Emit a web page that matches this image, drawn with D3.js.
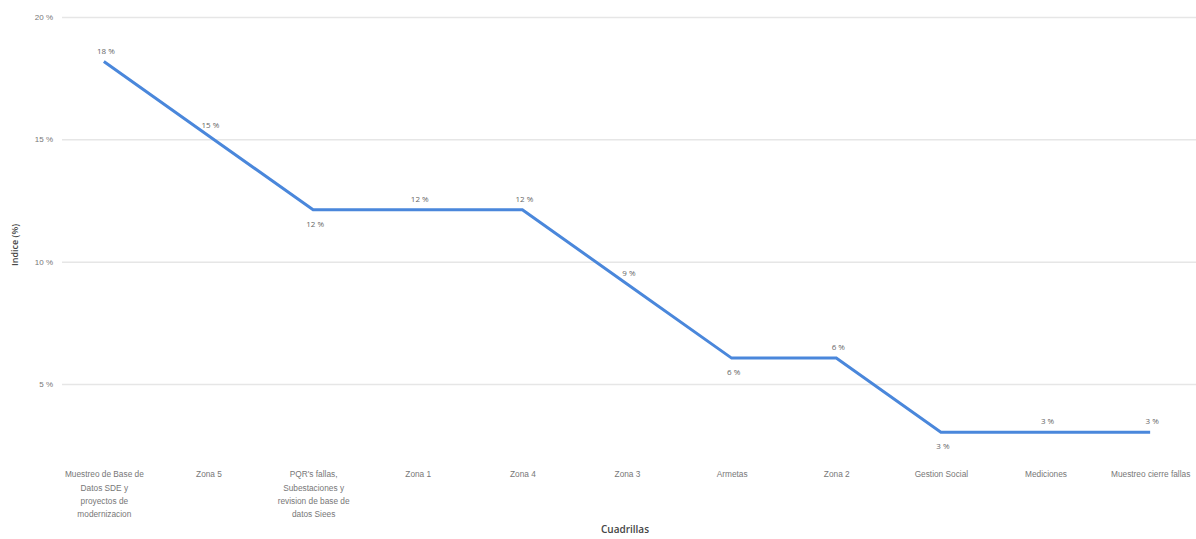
<!DOCTYPE html>
<html>
<head>
<meta charset="utf-8">
<script src="https://cdn.jsdelivr.net/npm/d3@7/dist/d3.min.js"></script>
<style>
  html, body { margin: 0; padding: 0; background: #fff; }
  svg { display: block; font-family: "Open Sans", "Noto Sans", sans-serif; }
</style>
</head>
<body>
<svg id="chart" width="1196" height="539"></svg>
<script>
// Cuadrillas (x categories, "\n" marks a label line break) and their index values in percent
const categories = [
  "Muestreo de Base de\nDatos SDE y\nproyectos de\nmodernizacion",
  "Zona 5",
  "PQR's fallas,\nSubestaciones y\nrevision de base de\ndatos Siees",
  "Zona 1",
  "Zona 4",
  "Zona 3",
  "Armetas",
  "Zona 2",
  "Gestion Social",
  "Mediciones",
  "Muestreo cierre fallas"
];
const values = [18.18, 15.15, 12.12, 12.12, 12.12, 9.09, 6.06, 6.06, 3.03, 3.03, 3.03];
const yTicks = [5, 10, 15, 20];
const yTitle = "Indice (%)";
const xTitle = "Cuadrillas";

const svg = d3.select("#chart");
const W = 1196;

const x = d3.scalePoint().domain(categories).range([62, 1192]).padding(0.4);
const y = d3.scaleLinear().domain([2.1, 20]).range([455, 17]);

// horizontal gridlines with tick labels
const yAxis = d3.axisLeft(y).tickValues(yTicks).tickSize(-(W - 62)).tickFormat(d => d + " %");
const gy = svg.append("g").attr("transform", "translate(62,0)").call(yAxis);
gy.select(".domain").remove();
gy.selectAll(".tick line").attr("stroke", "#e6e6e6").attr("stroke-width", 1.5);
gy.selectAll(".tick text").attr("x", -9).attr("fill", "#777").style("font-size", "8px");

// category labels, one tspan per line
const xAxis = d3.axisBottom(x).tickSize(0).tickPadding(0);
const gx = svg.append("g").attr("transform", "translate(0,470)").call(xAxis);
gx.select(".domain").remove();
gx.selectAll(".tick text")
  .attr("fill", "#777")
  .style("font-size", "8.3px")
  .each(function(d) {
    const t = d3.select(this).text(null);
    d.split("\n").forEach((ln, i) => {
      t.append("tspan").attr("x", 0).attr("dy", i === 0 ? "0.9em" : "1.6em").text(ln);
    });
  });

// the line
const line = d3.line().x((d, i) => x(categories[i])).y(d => y(d));
svg.append("path")
  .datum(values)
  .attr("fill", "none")
  .attr("stroke", "#4a87db")
  .attr("stroke-width", 3)
  .attr("stroke-linejoin", "miter")
  .attr("d", line);

// data labels: below at the start of a flat stretch after a drop, above otherwise
svg.append("g").selectAll("text")
  .data(values)
  .join("text")
  .attr("x", (d, i) => x(categories[i]) + 2)
  .attr("y", (d, i) => {
    const prev = i > 0 ? values[i - 1] : -Infinity;
    const next = i < values.length - 1 ? values[i + 1] : -Infinity;
    const below = prev > d && next >= d;
    return below ? y(d) + 17 : y(d) - 8;
  })
  .attr("text-anchor", "middle")
  .attr("fill", "#666")
  .style("font-size", "8px")
  .text(d => Math.round(d) + " %");

// axis titles
svg.append("text")
  .attr("transform", "translate(18,245) rotate(-90)")
  .attr("text-anchor", "middle")
  .attr("fill", "#444")
  .style("font-size", "9px")
  .style("font-weight", "600")
  .text(yTitle);

svg.append("text")
  .attr("x", 625).attr("y", 533)
  .attr("text-anchor", "middle")
  .attr("fill", "#444")
  .style("font-size", "10px")
  .style("font-weight", "600")
  .text(xTitle);
</script>
</body>
</html>
